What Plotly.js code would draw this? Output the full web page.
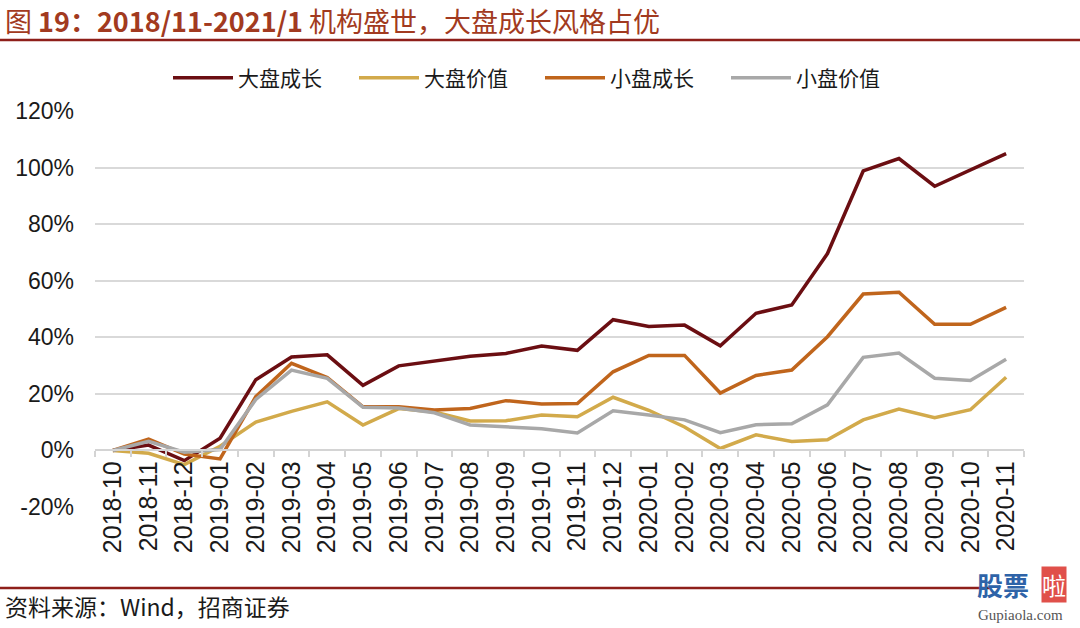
<!DOCTYPE html>
<html>
<head>
<meta charset="utf-8">
<script src="https://cdn.plot.ly/plotly-3.0.1.min.js"></script>
<style>html,body{margin:0;padding:0;background:#fff;}#chart{width:1080px;height:628px;}</style>
</head>
<body>
<div id="chart"></div>
<script>
const months = ["2018-10","2018-11","2018-12","2019-01","2019-02","2019-03","2019-04","2019-05","2019-06","2019-07","2019-08","2019-09","2019-10","2019-11","2019-12","2020-01","2020-02","2020-03","2020-04","2020-05","2020-06","2020-07","2020-08","2020-09","2020-10","2020-11"];
const largeGrowth = [0, 1.9, -3.6, 4.3, 25, 33, 33.8, 23, 29.9, 31.5, 33.3, 34.3, 36.9, 35.4, 46.2, 43.8, 44.3, 37, 48.5, 51.4, 69.6, 98.8, 103.2, 93.4, 99.3, 104.9];
const largeValue  = [0, -1, -5, 1.5, 10, 13.8, 17.2, 9, 14.8, 13.6, 10.4, 10.5, 12.5, 11.9, 18.8, 14.2, 8.3, 0.7, 5.5, 3.2, 3.8, 10.8, 14.6, 11.6, 14.4, 25.9];
const smallGrowth = [0, 4, -1.3, -3, 19, 30.8, 25.8, 15.4, 15.4, 14.3, 14.8, 17.6, 16.4, 16.6, 27.8, 33.6, 33.6, 20.3, 26.5, 28.4, 40.2, 55.3, 55.9, 44.6, 44.6, 50.6];
const smallValue  = [0, 3.2, -0.6, 0.3, 18, 28.4, 25.5, 15.3, 15, 13.3, 9, 8.3, 7.7, 6.2, 14, 12.5, 10.8, 6.3, 9.1, 9.4, 16.1, 32.9, 34.4, 25.5, 24.7, 32.2];
const seriesNames = ["大盘成长","大盘价值","小盘成长","小盘价值"];
const yTicks = [-20, 0, 20, 40, 60, 80, 100, 120];

const colors = ["#6B0E12", "#D2AA4B", "#C0651C", "#A8A8A8"];
const allSeries = [largeGrowth, largeValue, smallGrowth, smallValue];

const traces = allSeries.map((vals, i) => ({
  type: "scatter",
  mode: "lines",
  x: months,
  y: vals,
  name: seriesNames[i],
  line: {color: colors[i], width: 3.5},
  hoverinfo: "x+y+name"
}));

// paper coordinate helpers (plot area: x 95..1024, y 111..507)
const L = 95, R = 56, T = 111, B = 121, W = 1080, H = 628;
const pw = W - L - R, ph = H - T - B;
const px = x => (x - L) / pw;
const py = y => (H - B - y) / ph;

const layout = {
  width: W, height: H,
  margin: {l: L, r: R, t: T, b: B, pad: 0},
  paper_bgcolor: "#ffffff",
  plot_bgcolor: "#ffffff",
  font: {family: "Liberation Sans, Arial, sans-serif", color: "#1a1a1a"},
  showlegend: true,
  legend: {
    orientation: "h",
    x: px(168), xanchor: "left",
    y: py(78), yanchor: "middle",
    font: {family: "Noto Sans CJK SC, sans-serif", size: 21, color: "#1a1a1a"},
    itemwidth: 60,
    entrywidth: 111, entrywidthmode: "pixels",
    traceorder: "normal",
    bgcolor: "rgba(0,0,0,0)"
  },
  xaxis: {
    type: "category",
    range: [-0.5, months.length - 0.5],
    anchor: "free",
    position: 1 / 7,
    showline: true, linecolor: "#d4d4d4", linewidth: 2,
    ticks: "outside", tickson: "boundaries", ticklen: 6, tickcolor: "#d4d4d4", tickwidth: 2,
    tickangle: -90,
    tickfont: {family: "Liberation Sans, Arial, sans-serif", size: 25, color: "#1a1a1a"},
    showgrid: false, zeroline: false,
    fixedrange: true
  },
  yaxis: {
    range: [-20, 120],
    tickvals: yTicks,
    ticktext: yTicks.map(v => v + "%"),
    showgrid: true, gridcolor: "#d9d9d9", gridwidth: 2,
    zeroline: false, showline: false,
    ticks: "",
    ticklabelstandoff: 20,
    tickfont: {family: "Liberation Sans, Arial, sans-serif", size: 23, color: "#1a1a1a"},
    fixedrange: true
  },
  shapes: [
    {type: "line", xref: "paper", yref: "paper", x0: px(0), x1: px(1080), y0: py(40), y1: py(40),
     line: {color: "#8E1F1A", width: 2.5}},
    {type: "line", xref: "paper", yref: "paper", x0: px(0), x1: px(990), y0: py(588), y1: py(588),
     line: {color: "#8E1F1A", width: 2.5}}
  ],
  annotations: [
    {xref: "paper", yref: "paper", x: px(3), y: py(21), xanchor: "left", yanchor: "middle", showarrow: false,
     text: "图 <b>19：2018/11-2021/1</b> 机构盛世，大盘成长风格占优",
     font: {family: "Noto Sans CJK SC, Liberation Sans, sans-serif", size: 27, color: "#A23A20"}},
    {xref: "paper", yref: "paper", x: px(3), y: py(606), xanchor: "left", yanchor: "middle", showarrow: false,
     text: "资料来源：Wind，招商证券",
     font: {family: "Noto Sans CJK SC, Liberation Sans, sans-serif", size: 23, color: "#1a1a1a"}},
    {xref: "paper", yref: "paper", x: px(1031), y: py(584), xanchor: "right", yanchor: "middle", showarrow: false,
     text: "<b>股票</b>",
     font: {family: "Noto Sans CJK SC, sans-serif", size: 26, color: "#2E63A8"}},
    {xref: "paper", yref: "paper", x: px(1054), y: py(584), xanchor: "center", yanchor: "middle", showarrow: false,
     text: "啦", bgcolor: "#E0504A", borderpad: 0,
     font: {family: "Noto Sans CJK SC, sans-serif", size: 24, color: "#ffffff"}},
    {xref: "paper", yref: "paper", x: px(1020), y: py(615), xanchor: "center", yanchor: "middle", showarrow: false,
     text: "Gupiaola.com",
     font: {family: "Liberation Serif, serif", size: 15, color: "#555555"}}
  ]
};

Plotly.newPlot("chart", traces, layout, {displayModeBar: false, staticPlot: true});
</script>
</body>
</html>
